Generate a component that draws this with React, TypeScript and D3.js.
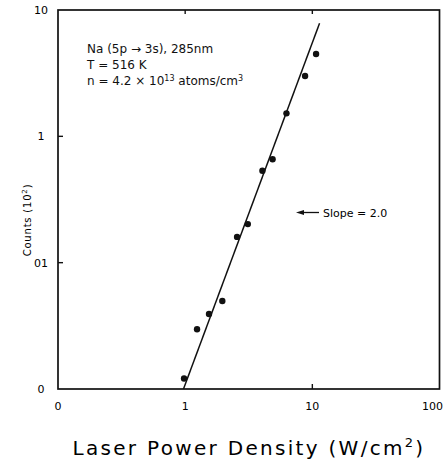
import React, { useEffect, useRef } from 'react';
import { select, scaleLog, line } from 'd3';

// measured points: laser power density (W/cm2) vs counts (10^2)
const powerDensity = [0.98, 1.24, 1.54, 1.96, 2.56, 3.11, 4.05, 4.87, 6.26, 8.77, 10.7];
const counts = [0.0121, 0.0297, 0.0392, 0.0497, 0.16, 0.202, 0.534, 0.658, 1.52, 3.0, 4.48];

// fitted line end points
const fitX = [0.97, 11.4];
const fitY = [0.01, 7.84];

const xTicks = [0.1, 1, 10, 100];
const xTickLabels = ['0', '1', '10', '100'];
const yTicks = [0.01, 0.1, 1, 10];
const yTickLabels = ['0', '01', '1', '10'];

const infoLines = ['T = 516 K'];

export default function App() {
  const ref = useRef<SVGSVGElement>(null);

  const width = 445;
  const height = 468;
  const left = 58, right = 439.5, top = 10, bottom = 389;
  const font = 'DejaVu Sans, sans-serif';

  useEffect(() => {
    const svg = select(ref.current);
    svg.selectAll('*').remove();

    const x = scaleLog().domain([0.1, 100]).range([left, right]);
    const y = scaleLog().domain([0.01, 10]).range([bottom, top]);

    // frame
    svg.append('rect')
      .attr('x', left).attr('y', top)
      .attr('width', right - left).attr('height', bottom - top)
      .attr('fill', 'none').attr('stroke', '#111').attr('stroke-width', 1.7);

    // left ticks
    svg.selectAll('line.yt')
      .data(yTicks.slice(1, 3))
      .join('line')
      .attr('class', 'yt')
      .attr('x1', left).attr('x2', left + 5)
      .attr('y1', d => y(d)).attr('y2', d => y(d))
      .attr('stroke', '#111').attr('stroke-width', 1.4);

    // top ticks
    svg.selectAll('line.xt')
      .data(xTicks.slice(1, 3))
      .join('line')
      .attr('class', 'xt')
      .attr('x1', d => x(d)).attr('x2', d => x(d))
      .attr('y1', top).attr('y2', top + 4)
      .attr('stroke', '#111').attr('stroke-width', 1.4);

    // bottom tick at 10
    svg.append('line')
      .attr('x1', x(10)).attr('x2', x(10))
      .attr('y1', bottom).attr('y2', bottom - 5)
      .attr('stroke', '#111').attr('stroke-width', 1.4);

    // tick labels (last one pulled in so it stays on the page)
    svg.selectAll('text.xl')
      .data(xTicks)
      .join('text')
      .attr('class', 'xl')
      .attr('x', (d, i) => i === xTicks.length - 1 ? 443 : x(d))
      .attr('y', bottom + 21)
      .attr('text-anchor', (d, i) => i === xTicks.length - 1 ? 'end' : 'middle')
      .style('font-family', font).style('font-size', '11px')
      .text((d, i) => xTickLabels[i]);

    svg.selectAll('text.yl')
      .data(yTicks)
      .join('text')
      .attr('class', 'yl')
      .attr('x', 41).attr('y', d => y(d) + 4)
      .attr('text-anchor', 'middle')
      .style('font-family', font).style('font-size', '11px')
      .text((d, i) => yTickLabels[i]);

    // fit line
    const fit = fitX.map((d, i) => ({ x: d, y: fitY[i] }));
    svg.append('path')
      .datum(fit)
      .attr('d', line<{ x: number; y: number }>().x(d => x(d.x)).y(d => y(d.y)))
      .attr('fill', 'none').attr('stroke', '#111').attr('stroke-width', 1.5);

    // points
    svg.selectAll('circle')
      .data(powerDensity)
      .join('circle')
      .attr('cx', d => x(d))
      .attr('cy', (d, i) => y(counts[i]))
      .attr('r', 3.2)
      .attr('fill', '#111');

    // slope annotation
    svg.append('line')
      .attr('x1', 302).attr('x2', 319)
      .attr('y1', 212.5).attr('y2', 212.5)
      .attr('stroke', '#111').attr('stroke-width', 1.3);
    svg.append('path')
      .attr('d', 'M296,212.5 L304,210 L304,215 Z')
      .attr('fill', '#111');
    svg.append('text')
      .attr('x', 323).attr('y', 217)
      .style('font-family', font).style('font-size', '11px')
      .text('Slope = 2.0');

    // info block
    const info = svg.append('g')
      .style('font-family', font).style('font-size', '12px').attr('fill', '#111');
    info.append('text').attr('x', 87).attr('y', 53)
      .text('Na (5p \u2192 3s), 285nm');
    info.selectAll('text.il')
      .data(infoLines)
      .join('text')
      .attr('class', 'il')
      .attr('x', 87).attr('y', 69)
      .text(d => d);
    const n = info.append('text').attr('x', 87).attr('y', 85);
    n.append('tspan').text('n = 4.2 \u00d7 10');
    n.append('tspan').attr('dy', -4).style('font-size', '8px').text('13');
    n.append('tspan').attr('dy', 4).text(' atoms/cm');
    n.append('tspan').attr('dy', -4).style('font-size', '8px').text('3');

    // axis titles
    const xt = svg.append('text')
      .attr('x', 249).attr('y', 455)
      .attr('text-anchor', 'middle')
      .style('font-family', font).style('font-size', '20px')
      .style('letter-spacing', '2.3px');
    xt.append('tspan').text('Laser Power Density (W/cm');
    xt.append('tspan').attr('dy', -8).style('font-size', '13px').text('2');
    xt.append('tspan').attr('dy', 8).text(')');

    const yt = svg.append('text')
      .attr('transform', 'translate(31,220) rotate(-90)')
      .attr('text-anchor', 'middle')
      .style('font-family', font).style('font-size', '10px')
      .style('letter-spacing', '0.8px');
    yt.append('tspan').text('Counts  (10');
    yt.append('tspan').attr('dy', -4).style('font-size', '7px').text('2');
    yt.append('tspan').attr('dy', 4).text(')');
  }, []);

  return (
    <svg ref={ref} width={width} height={height}
      style={{ position: 'absolute', left: 0, top: 0, background: '#fff' }} />
  );
}
